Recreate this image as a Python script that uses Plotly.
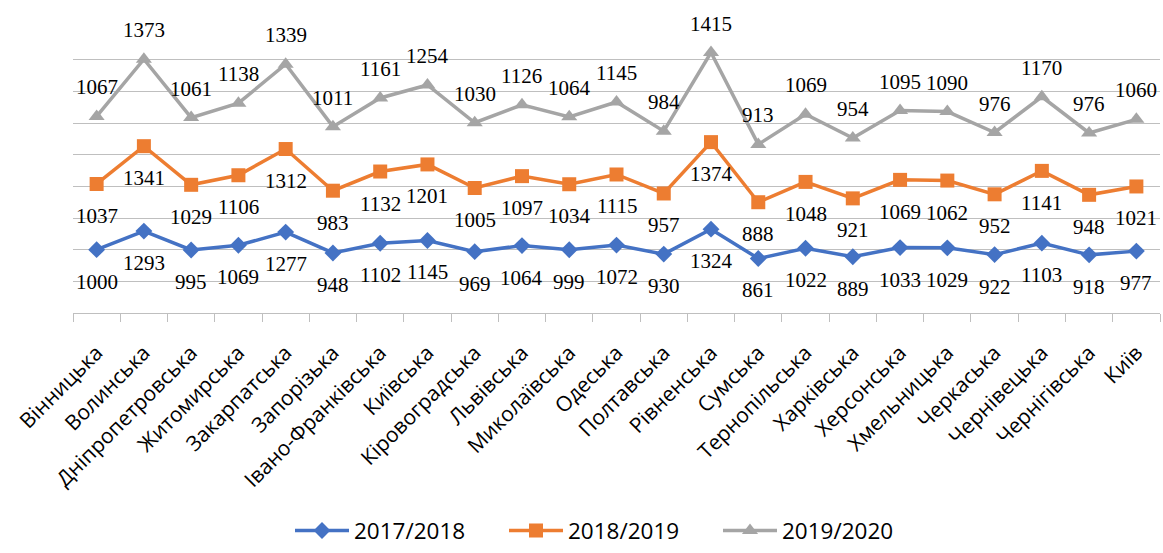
import numpy as np
import plotly.graph_objects as go

categories = ["Вінницька", "Волинська", "Дніпропетровська", "Житомирська", "Закарпатська",
              "Запорізька", "Івано-Франківська", "Київська", "Кіровоградська", "Львівська",
              "Миколаївська", "Одеська", "Полтавська", "Рівненська", "Сумська",
              "Тернопільська", "Харківська", "Херсонська", "Хмельницька", "Черкаська",
              "Чернівецька", "Чернігівська", "Київ"]

s2017 = [1000, 1293, 995, 1069, 1277, 948, 1102, 1145, 969, 1064, 999, 1072, 930, 1324,
         861, 1022, 889, 1033, 1029, 922, 1103, 918, 977]
s2018 = [1037, 1341, 1029, 1106, 1312, 983, 1132, 1201, 1005, 1097, 1034, 1115, 957, 1374,
         888, 1048, 921, 1069, 1062, 952, 1141, 948, 1021]
s2019 = [1067, 1373, 1061, 1138, 1339, 1011, 1161, 1254, 1030, 1126, 1064, 1145, 984, 1415,
         913, 1069, 954, 1095, 1090, 976, 1170, 976, 1060]

series_names = ["2017/2018", "2018/2019", "2019/2020"]
colors = ["#4472C4", "#ED7D31", "#A5A5A5"]
symbols = ["diamond", "square", "triangle-up"]
sizes = [13, 14, 14]
label_shift = [-32, -32, 29]

SERIF = "Liberation Serif, Times New Roman, DejaVu Serif, serif"
SANS = "Open Sans, Noto Sans, sans-serif"

# stacked line chart: cumulative sums
vals = [np.array(s2017), np.array(s2018), np.array(s2019)]
cum = np.cumsum(np.vstack(vals), axis=0)

fig = go.Figure()
annotations = []
for i in range(3):
    fig.add_trace(go.Scatter(
        x=categories, y=cum[i], name=series_names[i], mode="lines+markers",
        line=dict(color=colors[i], width=3.5),
        marker=dict(symbol=symbols[i], size=sizes[i], color=colors[i]),
        cliponaxis=False,
    ))
    for c, yv, v in zip(categories, cum[i], vals[i]):
        annotations.append(dict(
            x=c, y=yv, text=str(v), showarrow=False, yshift=label_shift[i],
            xanchor="center", yanchor="middle",
            font=dict(family=SERIF, size=21, color="#000000"),
        ))

fig.update_layout(
    width=1163, height=553,
    margin=dict(l=73, r=3, t=28, b=240, autoexpand=False),
    paper_bgcolor="white", plot_bgcolor="white",
    annotations=annotations,
    showlegend=True,
    legend=dict(orientation="h", x=(290 - 73) / 1087, xanchor="left",
                y=(313.3 - 553) / 285.3, yanchor="bottom",
                font=dict(family=SANS, size=22.5, color="#000000"),
                itemwidth=54, entrywidth=145, tracegroupgap=0),
    xaxis=dict(
        type="category", automargin=False, showgrid=False, showline=True,
        linecolor="#BFBFBF", linewidth=1.3,
        ticks="outside", tickson="boundaries", ticklen=8, tickcolor="#BFBFBF", tickwidth=1.3,
        tickangle=-45, ticklabelstandoff=18,
        tickfont=dict(family=SANS, size=21, color="#000000"),
        range=[-0.5, len(categories) - 0.5],
    ),
    yaxis=dict(
        automargin=False,
        range=[0, 4500], dtick=500, showgrid=True, gridcolor="#BFBFBF", gridwidth=1.3,
        showticklabels=False, zeroline=False, showline=False, ticks="",
    ),
)

fig.write_html("out.html", config={"displayModeBar": False},
               post_script="document.body.style.margin='0';document.body.style.overflow='hidden';")
